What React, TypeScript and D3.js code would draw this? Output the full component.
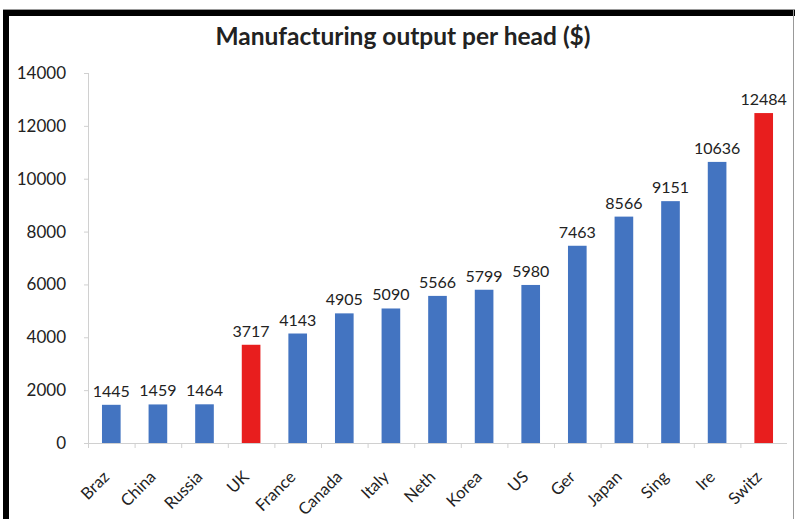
import React from "react";
import * as d3 from "d3";

const countries = ["Braz", "China", "Russia", "UK", "France", "Canada", "Italy", "Neth", "Korea", "US", "Ger", "Japan", "Sing", "Ire", "Switz"];
const values = [1445, 1459, 1464, 3717, 4143, 4905, 5090, 5566, 5799, 5980, 7463, 8566, 9151, 10636, 12484];
const highlighted = ["UK", "Switz"];
const yTicks = [0, 2000, 4000, 6000, 8000, 10000, 12000, 14000];
const title = "Manufacturing output per head ($)";

const W = 795;
const H = 519;
const FONT = "Lato, 'Open Sans', sans-serif";

export default function App() {
  const x = d3.scaleBand<string>().domain(countries).range([88, 787]).paddingInner(0.6).paddingOuter(0.3);
  const y = d3.scaleLinear().domain([0, 14000]).range([443, 73]);
  const bw = x.bandwidth();
  const step = x.step();
  const blue = "#4374c1";
  const red = "#e81e1e";
  return (
    <svg width={W} height={H} style={{ position: "absolute", left: 0, top: 0, background: "#fff" }} fontFamily={FONT}>
      <rect x={0} y={0} width={W} height={H} fill="#fff" />
      {/* frame */}
      <line x1={3} x2={W} y1={9.5} y2={9.5} stroke="#999" strokeWidth={1} />
      <rect x={3} y={10} width={W - 3} height={6} fill="#000" />
      <rect x={3} y={10} width={6} height={H - 10} fill="#000" />
      <line x1={793.5} x2={793.5} y1={10} y2={H} stroke="#999" strokeWidth={1} />
      <text x={403} y={45} textAnchor="middle" fontSize={24.5} fontWeight="bold" fill="#222">{title}</text>
      {/* y axis */}
      <line x1={88.5} x2={88.5} y1={y(14000)} y2={y(0)} stroke="#d0d0d0" />
      {yTicks.map((t) => (
        <g key={t}>
          <line x1={84} x2={88.5} y1={y(t) + 0.5} y2={y(t) + 0.5} stroke="#d0d0d0" />
          <text x={66} y={y(t)} dy="0.35em" textAnchor="end" fontSize={17} fill="#222">{t}</text>
        </g>
      ))}
      {/* x axis */}
      <line x1={88} x2={787} y1={443.5} y2={443.5} stroke="#d0d0d0" />
      {countries.map((c) => {
        const x0 = (x(c) as number) - (step - bw) / 2;
        return <line key={"t" + c} x1={x0 + 0.5} x2={x0 + 0.5} y1={443} y2={448} stroke="#d0d0d0" />;
      })}
      {countries.map((c, i) => {
        const bx = x(c) as number;
        const v = values[i];
        const cx = bx + bw / 2;
        return (
          <g key={c}>
            <rect x={bx} y={y(v)} width={bw} height={y(0) - y(v)} fill={highlighted.includes(c) ? red : blue} />
            <text x={cx} y={y(v) - 8} textAnchor="middle" fontSize={16} fill="#222">{v}</text>
            <text transform={`translate(${cx - 1},${478}) rotate(-45)`} textAnchor="end" fontSize={16.5} fill="#222">{c}</text>
          </g>
        );
      })}
    </svg>
  );
}
